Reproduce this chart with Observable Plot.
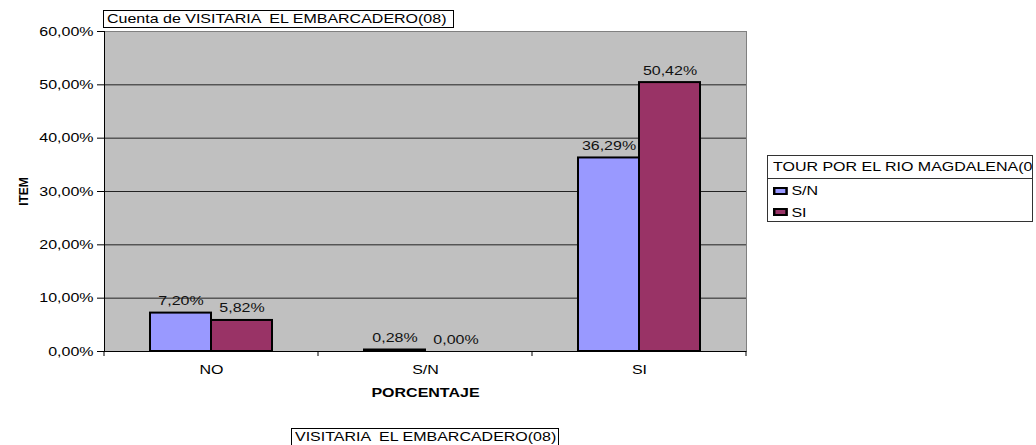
<!DOCTYPE html>
<html><head><meta charset="utf-8">
<script src="https://cdn.jsdelivr.net/npm/d3@7"></script>
<script src="https://cdn.jsdelivr.net/npm/@observablehq/plot@0.6"></script>
<style>
body{margin:0;background:#fff;font-family:"Liberation Sans",Arial,sans-serif;}
#wrap{position:relative;width:1036px;height:445px;overflow:hidden;}
#wrap svg{position:absolute;left:0;top:0;}
.box{position:absolute;border:1px solid #000;background:#fff;font-size:13px;line-height:16px;white-space:pre;overflow:hidden;box-sizing:border-box;color:#000;}
.st{display:inline-block;transform:scaleX(1.23);transform-origin:left center;}
.row{position:absolute;left:5px;height:16px;line-height:16px;}
.sw{display:inline-block;width:8px;height:4px;border:2px solid #000;vertical-align:middle;margin-right:3px;position:relative;top:-1px;}
</style></head><body><div id="wrap"></div>
<script>
const categories = ["NO", "S/N", "SI"];
const series = ["S/N", "SI"];
const valuesSN = [7.20, 0.28, 36.29];
const valuesSI = [5.82, 0.00, 50.42];
const colors = ["#9999ff", "#993366"];
const yTicks = [0, 10, 20, 30, 40, 50, 60];
const titleText = "Cuenta de VISITARIA  EL EMBARCADERO(08)";
const xTitle = "PORCENTAJE";
const yTitle = "ITEM";
const legendTitle = "TOUR POR EL RIO MAGDALENA(0";
const fieldText = "VISITARIA  EL EMBARCADERO(08)";

const data = categories.flatMap((c, i) => [
  {cat: c, ser: series[0], v: valuesSN[i]},
  {cat: c, ser: series[1], v: valuesSI[i]}
]);
const fmt = v => v.toFixed(2).replace(".", ",") + "%";
const STRETCH = 1.23;

const plot = Plot.plot({
  width: 1036, height: 445,
  marginLeft: 104, marginRight: 290, marginTop: 31, marginBottom: 94,
  style: {fontFamily: "'Liberation Sans', Arial, sans-serif", fontSize: "13px", background: "transparent", color: "#000"},
  fx: {domain: categories, padding: 0, label: null},
  x: {domain: series, paddingInner: 0, paddingOuter: 0.75, axis: null},
  y: {domain: [0, 60], label: null},
  color: {domain: series, range: colors},
  marks: [
    Plot.frame({fill: "#c0c0c0", facet: "super"}),
    Plot.ruleY(yTicks.slice(1, -1), {stroke: "#222"}),
    Plot.ruleY(yTicks.slice(-1), {stroke: "#808080"}),
    Plot.frame({anchor: "right", stroke: "#808080", facet: "super"}),
    Plot.frame({anchor: "left", stroke: "#000", facet: "super"}),
    Plot.ruleY([0], {stroke: "#000"}),
    Plot.barY(data, {fx: "cat", x: "ser", y: "v", fill: "ser", stroke: "#000", strokeWidth: 2}),
    Plot.text(data, {fx: "cat", x: "ser", y: "v", text: d => fmt(d.v), lineAnchor: "bottom", dy: -8, fill: "#111"}),
    Plot.axisY({ticks: yTicks, tickFormat: fmt, tickSize: 7, tickPadding: 4, label: null}),
    Plot.axisFx({anchor: "bottom", tickSize: 0, tickPadding: 13, label: null}),
    Plot.text([xTitle], {frameAnchor: "bottom", facet: "super", dy: 41, lineAnchor: "middle", textAnchor: "middle", fontWeight: "bold", text: d => d}),
    Plot.text([yTitle], {frameAnchor: "left", facet: "super", dx: -80, rotate: -90, textAnchor: "middle", lineAnchor: "middle", fontWeight: "bold", fontSize: 12, text: d => d})
  ]
});

const wrap = document.getElementById("wrap");
wrap.appendChild(plot);

// boundary tick marks under the category axis
const fx = plot.scale("fx");
const y = plot.scale("y");
const y0 = y.apply(0);
const bounds = categories.map(c => fx.apply(c)).concat([fx.apply(categories[categories.length - 1]) + fx.bandwidth]);
d3.select(plot).append("g").selectAll("line").data(bounds).join("line")
  .attr("x1", d => d).attr("x2", d => d).attr("y1", y0).attr("y2", y0 + 5)
  .attr("stroke", "#000");

// horizontal stretch of text to match the reference
plot.querySelectorAll("text").forEach(t => {
  if (t.textContent === yTitle) return;
  const len = t.getComputedTextLength();
  if (len > 0) {
    t.setAttribute("textLength", len * STRETCH);
    t.setAttribute("lengthAdjust", "spacingAndGlyphs");
  }
});

function box(text, left, top, width, height) {
  const b = document.createElement("div");
  b.className = "box";
  Object.assign(b.style, {left: left + "px", top: top + "px", width: width + "px", height: height + "px", paddingLeft: "3px"});
  const s = document.createElement("span");
  s.className = "st";
  s.textContent = text;
  b.appendChild(s);
  wrap.appendChild(b);
  return b;
}
box(titleText, 103, 10, 351, 18);
box(fieldText, 291, 428, 268, 18);

// legend
const lg = document.createElement("div");
lg.className = "box";
Object.assign(lg.style, {left: "767px", top: "155px", width: "266px", height: "67px", borderColor: "#333"});
const lt = document.createElement("div");
Object.assign(lt.style, {height: "22px", lineHeight: "22px", borderBottom: "1px solid #333", paddingLeft: "5px"});
lt.innerHTML = `<span class="st">${legendTitle}</span>`;
lg.appendChild(lt);
series.forEach((s, i) => {
  const r = document.createElement("div");
  r.className = "row";
  r.style.top = (27 + i * 21.5) + "px";
  r.innerHTML = `<span class="st"><span class="sw" style="background:${colors[i]}"></span>${s}</span>`;
  lg.appendChild(r);
});
wrap.appendChild(lg);
</script>
</body></html>
